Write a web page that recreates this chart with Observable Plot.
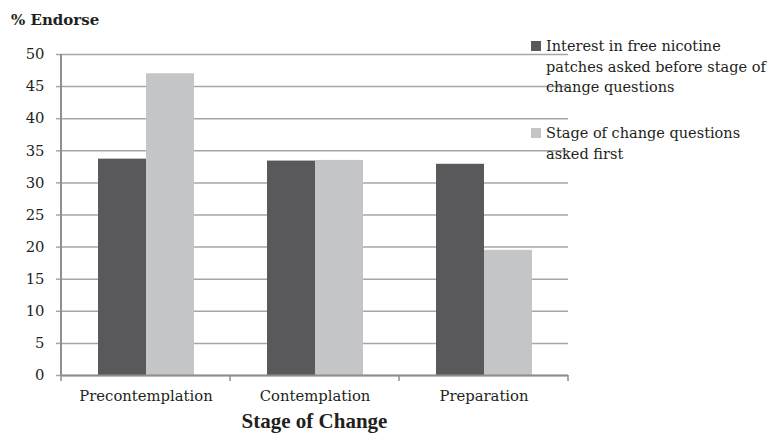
<!DOCTYPE html>
<html><head><meta charset="utf-8">
<script src="https://cdn.jsdelivr.net/npm/d3@7"></script>
<script src="https://cdn.jsdelivr.net/npm/@observablehq/plot@0.6"></script>
<style>
body{margin:0;background:#fff;}
#wrap{width:772px;height:434px;overflow:hidden;}
</style></head><body><div id="wrap"></div>
<script>
const stages = ["Precontemplation", "Contemplation", "Preparation"];
const seriesNames = [
  "Interest in free nicotine patches asked before stage of change questions",
  "Stage of change questions asked first"
];
const legendLines = [
  ["Interest in free nicotine", "patches asked before stage of", "change questions"],
  ["Stage of change questions", "asked first"]
];
const interestFirst = [33.7, 33.4, 32.9];
const stageFirst = [47.0, 33.5, 19.5];
const yTicks = [0, 5, 10, 15, 20, 25, 30, 35, 40, 45, 50];
const colors = ["#59595b", "#c4c5c7"];
const yTitle = "% Endorse";
const xTitle = "Stage of Change";

const data = stages.flatMap((s, i) => [
  {stage: s, series: seriesNames[0], value: interestFirst[i]},
  {stage: s, series: seriesNames[1], value: stageFirst[i]}
]);

const gridColor = "#a6a6a6";
const axisColor = "#8e8e8e";
const textColor = "#231f20";

const plot = Plot.plot({
  width: 772, height: 434,
  marginLeft: 60, marginRight: 203, marginTop: 54, marginBottom: 59,
  style: {fontFamily: "'DejaVu Serif', serif", fontSize: "14.8px", color: textColor, background: "white"},
  fx: {domain: stages, padding: 0, label: null},
  x: {domain: seriesNames, paddingInner: 0, paddingOuter: 0.74, axis: null},
  y: {domain: [0, 50], label: null},
  color: {domain: seriesNames, range: colors},
  marks: [
    Plot.gridY(yTicks, {stroke: gridColor, strokeOpacity: 1, strokeWidth: 1.5}),
    Plot.barY(data, {fx: "stage", x: "series", y: "value", fill: "series"}),
    Plot.ruleY([0], {stroke: axisColor, strokeWidth: 2}),
    Plot.axisY(yTicks, {tickSize: 5, text: null, stroke: gridColor, strokeWidth: 1.5, label: null}),
    Plot.axisY(yTicks, {tickSize: 0, tickPadding: 17, fill: textColor, label: null}),
    Plot.axisFx({anchor: "bottom", tickSize: 0, tickPadding: 15, fill: textColor, label: null})
  ]
});
document.getElementById("wrap").appendChild(plot);

const svg = d3.select(plot.tagName.toLowerCase() === "svg" ? plot : plot.querySelector("svg"));
const fx = plot.scale("fx"), y = plot.scale("y"), color = plot.scale("color");
const y0 = y.apply(0), yTop = y.apply(50);
const left = fx.apply(stages[0]);
const right = fx.apply(stages[stages.length - 1]) + fx.bandwidth;

// y axis line
svg.append("line").attr("x1", left).attr("x2", left).attr("y1", yTop).attr("y2", y0 + 1)
  .attr("stroke", axisColor).attr("stroke-width", 2);
// category boundary ticks
[...stages.map(s => fx.apply(s)), right].forEach(b => {
  svg.append("line").attr("x1", b).attr("x2", b).attr("y1", y0).attr("y2", y0 + 6)
    .attr("stroke", axisColor).attr("stroke-width", 1.5);
});
// titles
svg.append("text").attr("x", 11).attr("y", 25).attr("text-anchor", "start").text(yTitle)
  .attr("font-family", "'DejaVu Serif', serif").attr("font-weight", "bold").attr("font-size", 15).attr("fill", textColor);
svg.append("text").attr("x", (left + right) / 2).attr("y", 428).attr("text-anchor", "middle").text(xTitle)
  .attr("font-family", "'Liberation Serif', serif").attr("font-weight", "bold").attr("font-size", 21).attr("fill", textColor);
// legend
const lx = 531, lineH = 20.5;
const entryTop = [46, 133];
seriesNames.forEach((name, k) => {
  const cy = entryTop[k];
  svg.append("rect").attr("x", lx).attr("y", cy - 5).attr("width", 10).attr("height", 10).attr("fill", color.apply(name));
  legendLines[k].forEach((ln, j) => {
    svg.append("text").attr("x", lx + 15).attr("y", cy + j * lineH).attr("dy", "0.35em").attr("text-anchor", "start").text(ln)
      .attr("font-family", "'DejaVu Serif', serif").attr("font-size", 14.5).attr("fill", textColor);
  });
});
</script></body></html>
